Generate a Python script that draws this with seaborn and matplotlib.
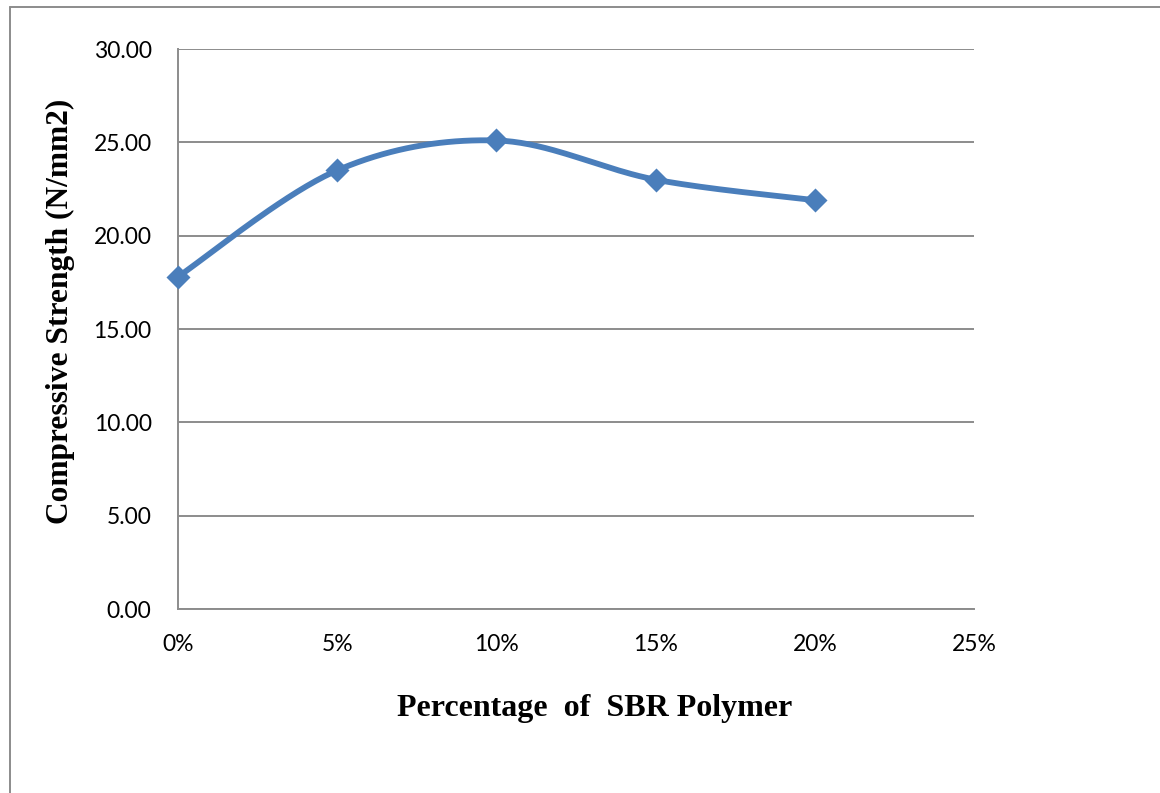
import numpy as np
import pandas as pd
import matplotlib
matplotlib.use("Agg")
import matplotlib.pyplot as plt
from matplotlib.lines import Line2D
from matplotlib.ticker import FuncFormatter
import seaborn as sns

# SBR polymer dosage (fraction) and compressive strength (N/mm2)
sbr_fraction = [0.00, 0.05, 0.10, 0.15, 0.20]
strength = [17.8, 23.5, 25.1, 23.0, 21.9]

x_ticks = [0.00, 0.05, 0.10, 0.15, 0.20, 0.25]
y_ticks = [0, 5, 10, 15, 20, 25, 30]

LINE_BLUE = "#4A7EBB"
GRID_GREY = "#8C8C8C"


def smooth_curve(xs, ys, steps=40):
    """Catmull-Rom style smoothing through the given points."""
    p = np.column_stack([xs, ys]).astype(float)
    p = np.vstack([p[0], p, p[-1]])
    out = []
    t = np.linspace(0, 1, steps)
    for i in range(1, len(p) - 2):
        p0, p1, p2, p3 = p[i - 1], p[i], p[i + 1], p[i + 2]
        c1 = p1 + (p2 - p0) / 6.0
        c2 = p2 - (p3 - p1) / 6.0
        seg = ((1 - t) ** 3)[:, None] * p1 + (3 * (1 - t) ** 2 * t)[:, None] * c1 \
            + (3 * (1 - t) * t ** 2)[:, None] * c2 + (t ** 3)[:, None] * p2
        out.append(seg if i == 1 else seg[1:])
    return np.vstack(out)


sns.set_theme(style="white")
plt.rcParams["font.family"] = ["Lato", "DejaVu Sans"]

df = pd.DataFrame({"sbr": sbr_fraction, "strength": strength})
curve = smooth_curve(df["sbr"], df["strength"])
curve_df = pd.DataFrame({"sbr": curve[:, 0], "strength": curve[:, 1]})

fig = plt.figure(figsize=(11.6, 7.93), dpi=100)
ax = fig.add_axes([178 / 1160, 1 - 609 / 793, (974 - 178) / 1160, (609 - 49) / 793])

sns.lineplot(data=curve_df, x="sbr", y="strength", ax=ax, color=LINE_BLUE,
             linewidth=4.2, sort=False, estimator=None, zorder=3, clip_on=False)
sns.scatterplot(data=df, x="sbr", y="strength", ax=ax, color=LINE_BLUE,
                marker="D", s=150, linewidth=0, zorder=4, clip_on=False)

ax.set_xlim(0, 0.25)
ax.set_ylim(0, 30)
ax.set_xticks(x_ticks)
ax.set_yticks(y_ticks)
ax.xaxis.set_major_formatter(FuncFormatter(lambda v, _: f"{v * 100:.0f}%"))
ax.yaxis.set_major_formatter(FuncFormatter(lambda v, _: f"{v:.2f}"))

ax.grid(axis="y", color=GRID_GREY, linewidth=1.4)
ax.grid(axis="x", visible=False)
ax.set_axisbelow(True)

for side in ["top", "right"]:
    ax.spines[side].set_visible(False)
for side in ["left", "bottom"]:
    ax.spines[side].set_color(GRID_GREY)
    ax.spines[side].set_linewidth(1.4)

ax.tick_params(axis="x", direction="in", length=6, width=1.4, color=GRID_GREY,
               labelsize=16.5, pad=18, labelcolor="black")
ax.tick_params(axis="y", length=0, labelsize=16.5, pad=19, labelcolor="black")

ax.set_xlabel("Percentage  of  SBR Polymer", family="Liberation Serif",
              fontweight="bold", fontsize=23, color="black")
ax.set_ylabel("Compressive Strength (N/mm2)", family="Liberation Serif",
              fontweight="bold", fontsize=22.6, color="black")
ax.xaxis.label.set_va("center")
ax.yaxis.label.set_va("center")
ax.xaxis.set_label_coords(0.524, -0.177)
ax.yaxis.set_label_coords(-0.148, 0.531)

# outer chart frame (left and top edges)
fig.add_artist(Line2D([10 / 1160, 10 / 1160], [0, 1 - 7 / 793],
                      transform=fig.transFigure, color="#8C8C8C", linewidth=1.4))
fig.add_artist(Line2D([10 / 1160, 1], [1 - 7 / 793, 1 - 7 / 793],
                      transform=fig.transFigure, color="#8C8C8C", linewidth=1.4))

fig.savefig("out.png", dpi=100, facecolor="white")
